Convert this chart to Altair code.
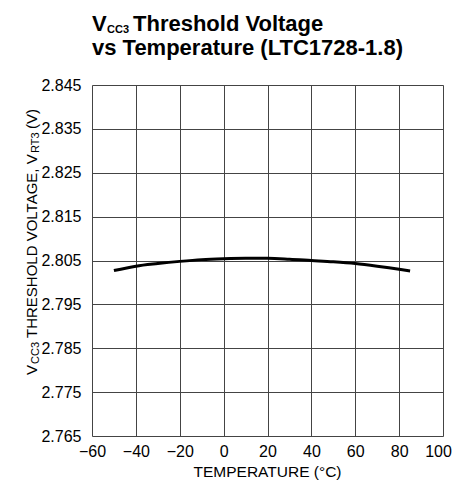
import altair as alt
import pandas as pd

# ---- data ----
temperature = [-50, -40, -30, -20, -10, 0, 10, 20, 30, 40, 50, 60, 70, 80, 85]
threshold_v = [2.8027, 2.8037, 2.8043, 2.8048, 2.8052, 2.8054, 2.8055, 2.8055,
               2.8053, 2.8050, 2.8047, 2.8043, 2.8037, 2.8030, 2.8026]
x_ticks = [-60, -40, -20, 0, 20, 40, 60, 80, 100]
y_ticks = [2.765, 2.775, 2.785, 2.795, 2.805, 2.815, 2.825, 2.835, 2.845]

title_main1 = "V"
title_sub1 = "CC3"
title_rest1 = "Threshold Voltage"
title_line2 = "vs Temperature (LTC1728-1.8)"
ytitle_parts = ["V", "CC3", "THRESHOLD VOLTAGE, V", "RT3", "(V)"]
xtitle = "TEMPERATURE (°C)"

FONT = "Liberation Sans, Arial, sans-serif"

df = pd.DataFrame({"temp": temperature, "v": threshold_v})

line = alt.Chart(df).mark_line(color="black", strokeWidth=3, interpolate="monotone").encode(
    x=alt.X("temp:Q", scale=alt.Scale(domain=[-60, 100], nice=False, zero=False),
            axis=alt.Axis(values=x_ticks, title=None, grid=True, ticks=False, domain=False,
                          labelOverlap=False, labelFlush=False, labelPadding=7,
                          labelOffset={"condition": {"test": "datum.value == 100", "value": -5},
                                       "value": 0},
                          labelFontSize=16, labelFont=FONT, labelColor="black",
                          gridColor="#444", gridWidth=1)),
    y=alt.Y("v:Q", scale=alt.Scale(domain=[2.765, 2.845], nice=False, zero=False),
            axis=alt.Axis(values=y_ticks, format=".3f", title=None, grid=True, ticks=False,
                          domain=False, labelOverlap=False, labelFlush=False,
                          labelPadding=11, labelFontSize=16, labelFont=FONT,
                          labelColor="black", gridColor="#444", gridWidth=1)),
)


def txt(s, x, y, size, bold=False, angle=0, align="left"):
    kw = dict(align=align, baseline="alphabetic", fontSize=size, font=FONT, color="black")
    if bold:
        kw["fontWeight"] = "bold"
    if angle:
        kw["angle"] = angle
    return alt.Chart(pd.DataFrame({"t": [s]})).mark_text(**kw).encode(
        text="t:N", x=alt.value(x), y=alt.value(y))


layers = [
    line,
    txt(title_main1, 0, -54, 22, bold=True),
    txt(title_sub1, 15, -52, 11, bold=True),
    txt(title_rest1, 41, -54, 22, bold=True),
    txt(title_line2, 0, -30.5, 22, bold=True),
    txt(ytitle_parts[0], -55.5, 290, 15, angle=270),
    txt(ytitle_parts[1], -53, 279, 11, angle=270),
    txt(ytitle_parts[2], -55.5, 253, 15, angle=270),
    txt(ytitle_parts[3], -53, 68, 11, angle=270),
    txt(ytitle_parts[4], -55.5, 44, 15, angle=270),
    txt(xtitle, 175.5, 392, 15.5, align="center"),
]

chart = alt.layer(*layers).properties(
    width=351, height=351,
    autosize=alt.AutoSizeParams(type="none"),
    padding={"left": 84, "top": 77, "right": 9, "bottom": 45},
).configure_view(stroke="black", strokeWidth=2).configure(background="white")

chart.save("out.html", embed_options={"renderer": "svg", "actions": False})
